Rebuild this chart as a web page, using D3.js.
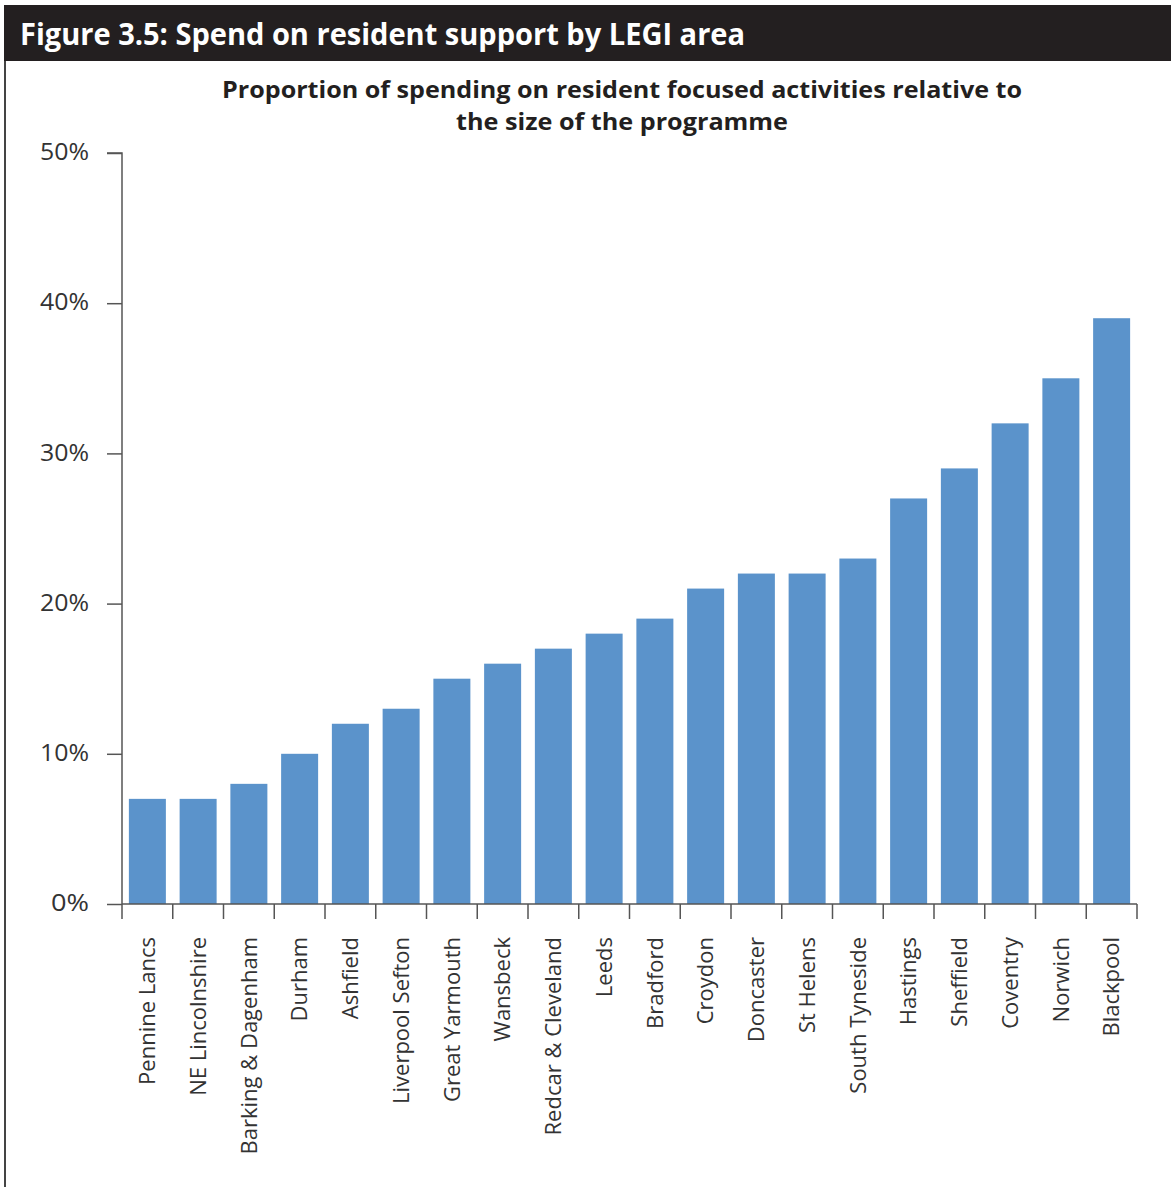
<!DOCTYPE html>
<html>
<head>
<meta charset="utf-8">
<script src="https://cdn.jsdelivr.net/npm/d3@7"></script>
<style>
  html, body { margin: 0; padding: 0; background: #fff; }
  svg { display: block; }
</style>
</head>
<body>
<script>
const categories = ["Pennine Lancs","NE Lincolnshire","Barking & Dagenham","Durham","Ashfield","Liverpool Sefton","Great Yarmouth","Wansbeck","Redcar & Cleveland","Leeds","Bradford","Croydon","Doncaster","St Helens","South Tyneside","Hastings","Sheffield","Coventry","Norwich","Blackpool"];
const values = [7,7,8,10,12,13,15,16,17,18,19,21,22,22,23,27,29,32,35,39];
const yTicks = [0,10,20,30,40,50];
const headerText = "Figure 3.5:  Spend on resident support by LEGI area";
const titleLines = ["Proportion of spending on resident focused activities relative to", "the size of the programme"];

const W = 1171, H = 1187;
const svg = d3.select("body").append("svg").attr("width", W).attr("height", H);
const font = "'Open Sans', 'Noto Sans', sans-serif";

// header bar
svg.append("rect").attr("x", 4).attr("y", 5).attr("width", W - 4).attr("height", 56).attr("fill", "#231f20");
svg.append("text").attr("x", 20).attr("y", 45).attr("fill", "#fff")
  .attr("font-family", font).attr("font-weight", 700).attr("font-size", 30)
  .attr("textLength", 725).attr("lengthAdjust", "spacingAndGlyphs")
  .text(headerText);
// left border
svg.append("line").attr("x1", 5).attr("x2", 5).attr("y1", 61).attr("y2", H).attr("stroke", "#444").attr("stroke-width", 2);

// chart title
const tl = [{t: titleLines[0], y: 98, w: 800}, {t: titleLines[1], y: 130, w: 332}];
tl.forEach(d => {
  svg.append("text").attr("x", 622).attr("y", d.y).attr("text-anchor", "middle")
    .attr("font-family", font).attr("font-weight", 700).attr("font-size", 24).attr("fill", "#231f20")
    .attr("textLength", d.w).attr("lengthAdjust", "spacingAndGlyphs")
    .text(d.t);
});

const x0 = 122, x1 = 1137, y0 = 904, y1 = 153;
const x = d3.scaleBand().domain(categories).range([x0, x1]).paddingInner(0.271).paddingOuter(0.1355);
const y = d3.scaleLinear().domain([0, 50]).range([y0, y1]);

// bars
svg.append("g").selectAll("rect").data(values).join("rect")
  .attr("x", (d, i) => x(categories[i]))
  .attr("y", d => y(d))
  .attr("width", x.bandwidth())
  .attr("height", d => y(0) - y(d))
  .attr("fill", "#5b93cb");

// y axis
const yAxis = d3.axisLeft(y).tickValues(yTicks).tickSize(15).tickPadding(18).tickFormat(d => d + "%");
const gy = svg.append("g").attr("transform", `translate(${x0},0)`).call(yAxis);
gy.select(".domain").attr("stroke", "#555").attr("stroke-width", 1.5).attr("d", `M-15,${y1}H0V${y0}`);
gy.selectAll(".tick line").attr("stroke", "#555").attr("stroke-width", 1.5);
gy.selectAll(".tick text").attr("font-family", font).attr("font-size", 24).attr("fill", "#333").attr("dy", "0.28em")
  .attr("textLength", 49).attr("lengthAdjust", "spacingAndGlyphs");
gy.selectAll(".tick text").filter(d => d === 0).attr("textLength", 38);

// x axis with ticks at band boundaries
const gx = svg.append("g").attr("transform", `translate(0,${y0})`);
gx.append("line").attr("x1", x0).attr("x2", x1).attr("stroke", "#555").attr("stroke-width", 1.5);
const bounds = categories.map(c => x(c) - x.step() * x.paddingInner() / 2).concat([x1]);
gx.selectAll(".xt").data(bounds).join("line").attr("class", "xt")
  .attr("x1", d => d).attr("x2", d => d).attr("y1", 0).attr("y2", 15)
  .attr("stroke", "#555").attr("stroke-width", 1.5);
gx.selectAll(".xl").data(categories).join("text").attr("class", "xl")
  .attr("transform", d => `translate(${x(d) + x.bandwidth() / 2},33) rotate(-90)`)
  .attr("text-anchor", "end").attr("dy", "0.35em")
  .attr("font-family", font).attr("font-size", 22).attr("fill", "#333")
  .text(d => d);
</script>
</body>
</html>
